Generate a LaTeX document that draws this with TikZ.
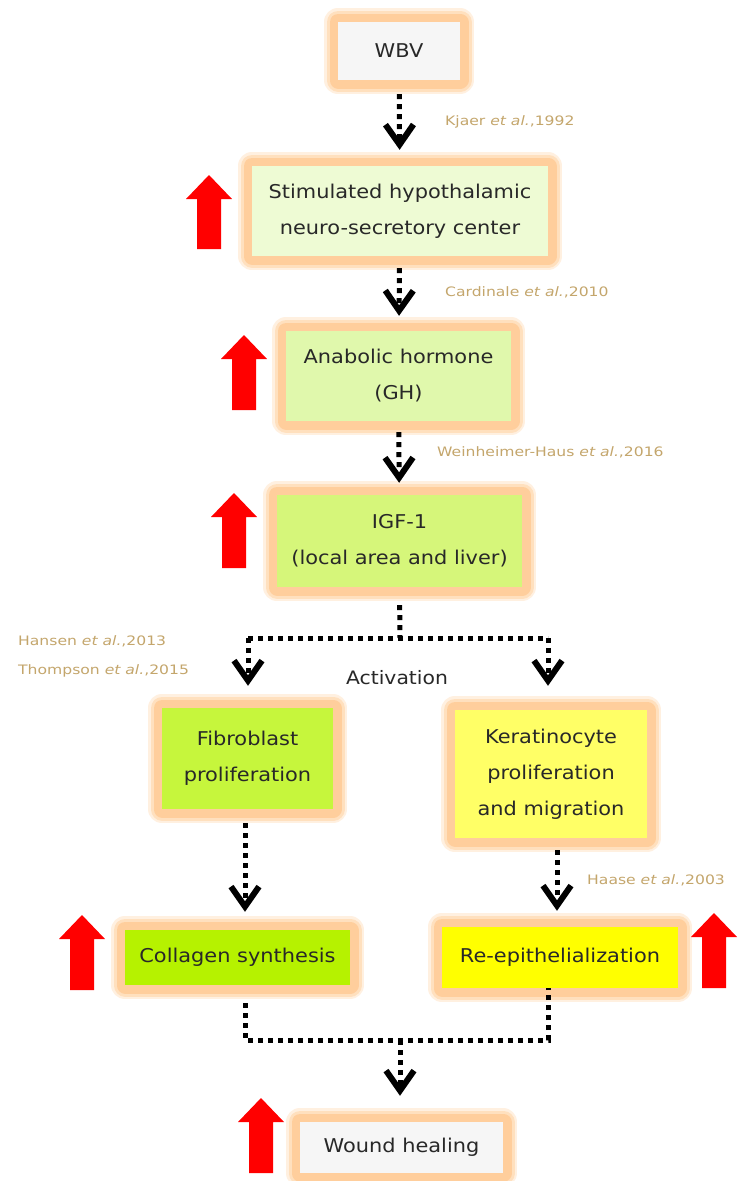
\documentclass[tikz,border=0pt]{standalone}
\usepackage{fontspec}
\setmainfont{DejaVu Sans}
\newfontfamily\boxfont[FakeStretch=1.1]{DejaVu Sans}
\newfontfamily\citefont[FakeStretch=1.2]{DejaVu Sans}
\usetikzlibrary{arrows.meta}
\definecolor{glowA}{RGB}{255,240,224}
\definecolor{glowM}{RGB}{255,224,190}
\definecolor{glowB}{RGB}{255,206,156}
\definecolor{citec}{RGB}{196,166,108}
\definecolor{txt}{RGB}{40,40,40}
\definecolor{cWBV}{RGB}{246,246,246}
\definecolor{cStim}{RGB}{238,251,212}
\definecolor{cAna}{RGB}{224,248,172}
\definecolor{cIGF}{RGB}{214,246,122}
\definecolor{cFib}{RGB}{198,246,60}
\definecolor{cKer}{RGB}{255,255,102}
\definecolor{cCol}{RGB}{182,242,0}
\definecolor{cRe}{RGB}{255,255,0}
\newcommand{\redup}[3]{\fill[red] (#1-12,#2) -- (#1+12,#2) -- (#1+12,#3+24) -- (#1+23,#3+24) -- (#1,#3) -- (#1-23,#3+24) -- (#1-12,#3+24) -- cycle;}
\begin{document}
\begin{tikzpicture}[x=1pt,y=-1pt,
  box/.style={fill=#1, text=txt, align=center, inner sep=0pt,
    font=\boxfont\fontsize{19}{36}\selectfont,
    preaction={draw=glowA, line width=28pt, line join=round},
    preaction={draw=glowM, line width=23pt, line join=round},
    preaction={draw=glowB, line width=17pt, line join=round}},
  cite/.style={text=citec, anchor=west, inner sep=0pt, font=\citefont\fontsize{13}{14}\selectfont},
  dotline/.style={line width=5pt, dash pattern=on 5pt off 5pt, black},
  dotarrow/.style={dotline, -{Straight Barb[length=20pt,width=28pt,line width=6pt]}}
]
\useasboundingbox[fill=white] (0,0) rectangle (750,1181);

% boxes
\node[box=cWBV, minimum width=122pt, minimum height=58pt] (wbv) at (399,51) {WBV};
\node[box=cStim, minimum width=296pt, minimum height=90pt] (stim) at (400,211) {Stimulated hypothalamic\\neuro-secretory center};
\node[box=cAna, minimum width=225pt, minimum height=90pt] (ana) at (398.5,376) {Anabolic hormone\\(GH)};
\node[box=cIGF, minimum width=245pt, minimum height=92pt] (igf) at (399.5,541) {IGF-1\\(local area and liver)};
\node[box=cFib, minimum width=171pt, minimum height=101pt] (fib) at (247.5,758.5) {Fibroblast\\proliferation};
\node[box=cKer, minimum width=192pt, minimum height=128pt] (ker) at (551,774) {Keratinocyte\\proliferation\\and migration};
\node[box=cCol, minimum width=225pt, minimum height=55pt] (col) at (237.5,957.5) {Collagen synthesis};
\node[box=cRe, minimum width=236pt, minimum height=61pt] (re) at (560,957.5) {Re-epithelialization};
\node[box=cWBV, minimum width=203pt, minimum height=51pt] (wh) at (401.5,1147.5) {Wound healing};

% red arrows
\redup{209}{249}{175}
\redup{244}{410}{335}
\redup{234}{568}{493}
\redup{82}{990}{915}
\redup{714}{988}{913}
\redup{261}{1173}{1098}

% connectors
\draw[dotarrow, shorten <=14pt, shorten >=16pt] (wbv) -- (stim);
\draw[dotarrow, shorten <=12pt, shorten >=15pt] (stim) -- (ana);
\draw[dotarrow, shorten <=11pt, shorten >=12pt] (ana) -- (igf);

\coordinate (split) at (400,638);
\coordinate (lb) at (248,638);
\coordinate (rb) at (548,638);
\draw[dotline, shorten <=18pt] (igf.south) -- (split);
\draw[dotline] (lb) -- (rb);
\draw[dotarrow, shorten >=22pt] (lb) -- (lb |- fib.north);
\draw[dotarrow, shorten >=24pt] (rb) -- (rb |- ker.north);

\coordinate (kb) at (557,838);
\draw[dotarrow, shorten <=12pt, shorten >=16pt] (kb) -- (kb |- re.north);
\coordinate (fb) at (245,809);
\draw[dotarrow, shorten <=14pt, shorten >=18pt] (fb) -- (fb |- col.north);

\coordinate (ml) at (245,1040);
\coordinate (mr) at (548,1040);
\coordinate (mm) at (400,1040);
\draw[dotline, shorten <=18pt] (245,985) -- (ml) -- (mr) -- (548,988);
\draw[dotarrow, shorten >=26pt] (mm) -- (mm |- wh.north);

% labels
\node[cite] (c1) at (445,122) {Kjaer \textit{et al.},1992};
\node[cite] (c2) at (445,292) {Cardinale \textit{et al.},2010};
\node[cite] (c3) at (437,452) {Weinheimer-Haus \textit{et al.},2016};
\node[cite] (c4) at (18,641) {Hansen \textit{et al.},2013};
\node[cite] (c5) at (18,671) {Thompson \textit{et al.},2015};
\node[cite] (c6) at (587,880) {Haase \textit{et al.},2003};
\node[text=txt, inner sep=0pt, font=\boxfont\fontsize{18.5}{20}\selectfont] (act) at (397,678) {Activation};
\end{tikzpicture}
\end{document}
